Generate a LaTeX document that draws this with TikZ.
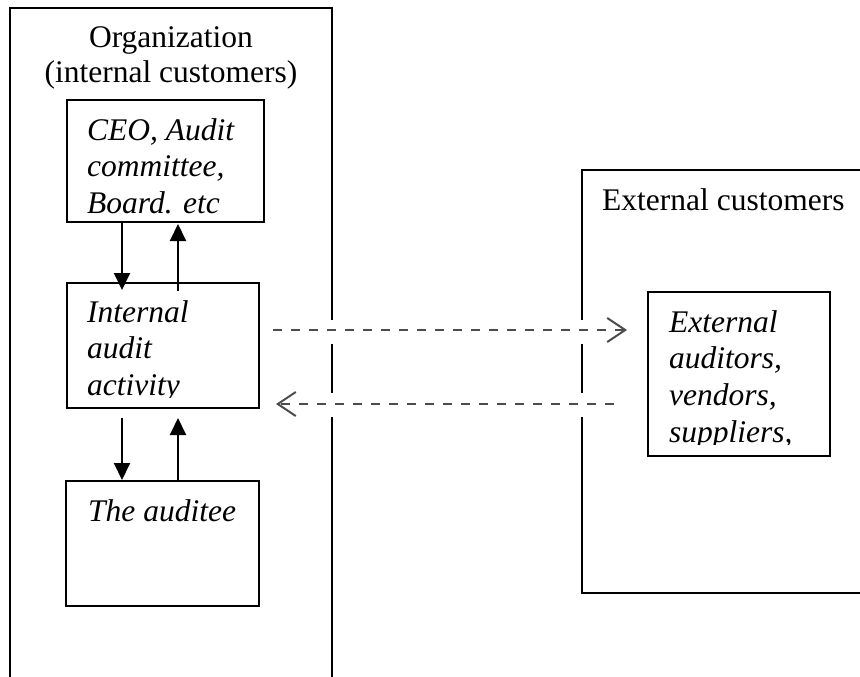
\documentclass[tikz,border=0pt]{standalone}
\usepackage{fontspec}
\setmainfont{Liberation Serif}
\usetikzlibrary{arrows.meta}
\begin{document}
\begin{tikzpicture}[x=1pt,y=-1pt,
  frame/.style={line width=2pt},
  box/.style={draw, line width=2pt, inner sep=0pt},
  txt/.style={inner sep=0pt, anchor=base west, font=\fontsize{31.5}{36.5}\selectfont},
  itxt/.style={inner sep=0pt, anchor=base west, font=\fontsize{31.5}{36.5}\selectfont\itshape},
  arr/.style={line width=2pt, -{Triangle[length=17pt,width=16pt]}},
  darr/.style={line width=2pt, black!70, dash pattern=on 9pt off 9pt, -{Straight Barb[length=18pt,width=24pt,line width=2pt]}}
]
\useasboundingbox (0,0) rectangle (860,677);
% frames (open at the picture's edges)
\draw[frame] (10,690) -- (10,8) -- (332,8) -- (332,690);
\draw[frame] (875,170) -- (582,170) -- (582,593) -- (875,593);
% frame labels
\node[txt, anchor=base] (org1) at (171,48) {Organization};
\node[txt, anchor=base] (org2) at (171,83) {(internal customers)};
\node[txt] (extc) at (602,210) {External customers};
% boxes
\node[box, minimum width=197pt, minimum height=122pt] (ceo) at (165.5,161) {};
\node[box, minimum width=192pt, minimum height=125pt] (ia) at (163,345.5) {};
\node[box, minimum width=193pt, minimum height=125pt] (aud) at (162.5,543.5) {};
\node[box, minimum width=182pt, minimum height=164pt] (extin) at (739,374) {};
% box texts
\node[itxt] (ceo1) at (87,140) {CEO, Audit};
\node[itxt] (ceo2) at (87,176.5) {committee,};
\node[itxt] (ceo3) at (87,213) {Board. etc};
\node[itxt] (ia1) at (87,322) {Internal};
\node[itxt] (ia2) at (87,358.5) {audit};
\begin{scope}
  \clip (60,370) rectangle (262,397);
  \node[itxt] (ia3) at (87,395) {activity};
\end{scope}
\node[itxt] (aud1) at (88,521) {The auditee};
\node[itxt] (ext1) at (669,332) {External};
\node[itxt] (ext2) at (669,368.7) {auditors,};
\node[itxt] (ext3) at (669,405.3) {vendors,};
\begin{scope}
  \clip (650,415) rectangle (828,444);
  \node[itxt] (ext4) at (669,442) {suppliers,};
\end{scope}
% vertical arrows
\draw[arr] ([xshift=56pt]ceo.south west) -- ([xshift=56pt,yshift=-8pt]ia.north west);
\draw[arr] ([xshift=112pt,yshift=-9pt]ia.north west) -- ([xshift=112pt,yshift=-1pt]ceo.south west);
\draw[arr] ([xshift=56pt,yshift=-9pt]ia.south west) -- ([xshift=57pt]aud.north west);
\draw[arr] ([xshift=113pt]aud.north west) -- ([xshift=112pt,yshift=-9pt]ia.south west);
% gaps where the dashed arrows cross the frames
\fill[white] (270,320) rectangle (632,344);
\fill[white] (270,393) rectangle (632,417);
% dashed arrows
\draw[darr] ([xshift=13pt,yshift=15.5pt]ia.east) -- ([xshift=-20pt,yshift=44pt]extin.west);
\draw[darr] ([xshift=-33pt,yshift=-30pt]extin.west) -- ([xshift=16pt,yshift=-58.5pt]ia.east);
\end{tikzpicture}
\end{document}
